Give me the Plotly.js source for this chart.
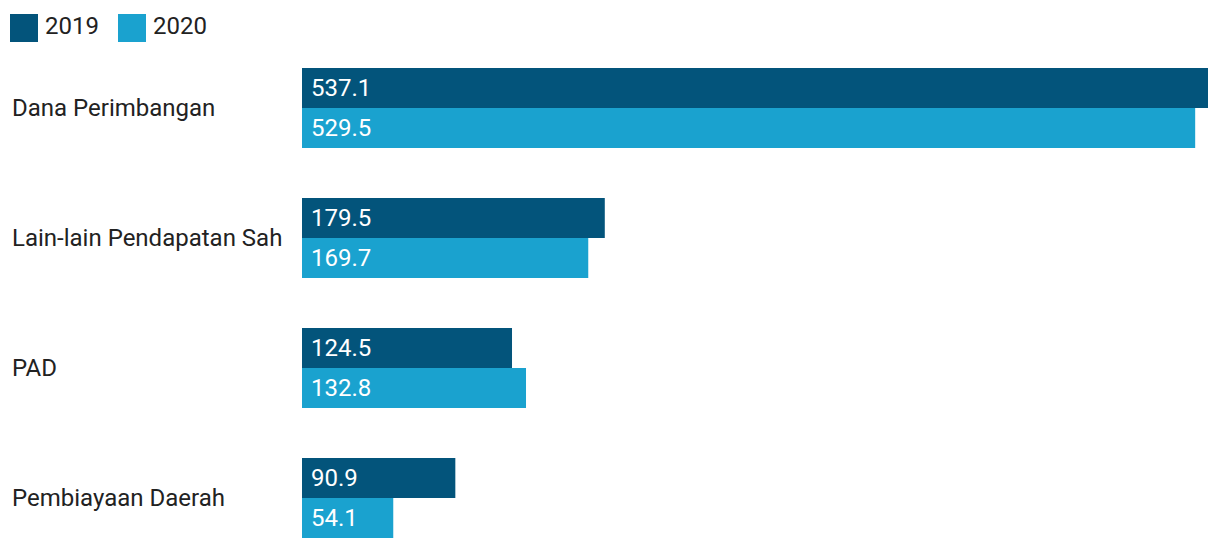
<!DOCTYPE html>
<html>
<head>
<meta charset="utf-8">
<script src="https://cdn.plot.ly/plotly-3.0.1.min.js"></script>
<style>
  html, body { margin: 0; padding: 0; background: #ffffff; }
  #chart { width: 1220px; height: 550px; }
</style>
</head>
<body>
<div id="chart"></div>
<script>
(function () {
  "use strict";

  // Data (trillion rupiah).
  var categories = ["Dana Perimbangan", "Lain-lain Pendapatan Sah", "PAD", "Pembiayaan Daerah"];
  var values2019 = [537.1, 179.5, 124.5, 90.9];
  var values2020 = [529.5, 169.7, 132.8, 54.1];
  var seriesNames = ["2019", "2020"];

  var DARK = "#03547b";
  var LIGHT = "#1aa2cf";
  var TEXT = "#222222";
  var FONT = "Roboto, 'Noto Sans', sans-serif";
  var SIZE = 24;

  // Plot area in pixels, used to place the hand-drawn legend and left labels.
  var W = 1220, H = 550;
  var M = { l: 302, r: 12, t: 43, b: 0 };
  var PW = W - M.l - M.r;
  var PH = H - M.t - M.b;
  function px(x) { return (x - M.l) / PW; }
  function py(y) { return (H - M.b - y) / PH; }

  function barTrace(name, vals, color) {
    return {
      type: "bar",
      orientation: "h",
      name: name,
      y: categories,
      x: vals,
      marker: { color: color },
      hoverinfo: "skip",
      showlegend: false
    };
  }

  var traces = [
    barTrace(seriesNames[0], values2019, DARK),
    barTrace(seriesNames[1], values2020, LIGHT)
  ];

  var annotations = [];
  // Category names, left-aligned at the page edge.
  categories.forEach(function (c) {
    annotations.push({
      xref: "paper", yref: "y", x: px(10), y: c,
      text: c, showarrow: false, xanchor: "left", yanchor: "middle",
      font: { family: FONT, size: SIZE, color: TEXT }
    });
  });
  // Value labels inside each bar, at its left end.
  [values2019, values2020].forEach(function (vals, si) {
    vals.forEach(function (v, i) {
      annotations.push({
        xref: "x", yref: "y", x: 0, y: categories[i],
        yshift: si === 0 ? 20 : -20,
        xshift: 7,
        text: v.toFixed(1), showarrow: false, xanchor: "left", yanchor: "middle",
        font: { family: FONT, size: SIZE, color: "#ffffff" }
      });
    });
  });

  // Legend: large squares + labels drawn in the top margin.
  var legendItems = [
    { name: seriesNames[0], color: DARK, x: 10 },
    { name: seriesNames[1], color: LIGHT, x: 118 }
  ];
  var shapes = [];
  legendItems.forEach(function (it) {
    shapes.push({
      type: "rect", xref: "paper", yref: "paper",
      x0: px(it.x), x1: px(it.x + 28), y0: py(42), y1: py(14),
      fillcolor: it.color, line: { width: 0 }
    });
    annotations.push({
      xref: "paper", yref: "paper", x: px(it.x + 33), y: py(26),
      text: it.name, showarrow: false, xanchor: "left", yanchor: "middle",
      font: { family: FONT, size: SIZE, color: TEXT }
    });
  });

  var layout = {
    width: W,
    height: H,
    autosize: false,
    margin: M,
    paper_bgcolor: "#ffffff",
    plot_bgcolor: "#ffffff",
    font: { family: FONT, color: TEXT },
    barmode: "group",
    bargap: 50 / 130,
    bargroupgap: 0,
    showlegend: false,
    xaxis: {
      range: [0, values2019[0]],
      visible: false,
      showgrid: false,
      zeroline: false,
      fixedrange: true
    },
    yaxis: {
      type: "category",
      categoryorder: "array",
      categoryarray: categories,
      range: [3.4, -0.5],
      showticklabels: false,
      showgrid: false,
      zeroline: false,
      ticks: "",
      fixedrange: true
    },
    shapes: shapes,
    annotations: annotations
  };

  Plotly.newPlot("chart", traces, layout, { displayModeBar: false, staticPlot: true });
})();
</script>
</body>
</html>
